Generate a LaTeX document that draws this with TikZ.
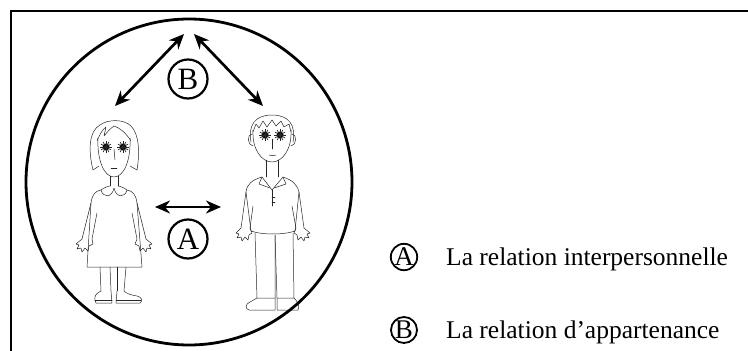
\documentclass[tikz,border=0pt]{standalone}
\usepackage{fontspec}
\setmainfont{Liberation Serif}
\usetikzlibrary{arrows.meta}

\begin{document}
\begin{tikzpicture}[x=1pt, y=-1pt,
  figline/.style={line width=0.5pt, draw=black!85, line join=round, line cap=round},
  relarrow/.style={line width=2.7pt, {Stealth[length=15pt,width=13pt]}-{Stealth[length=15pt,width=13pt]}},
  lettercirc/.style={circle, draw, line width=2.2pt, inner sep=0pt, minimum size=39pt, font=\fontsize{31}{31}\selectfont},
  keycirc/.style={circle, draw, line width=1.8pt, inner sep=0pt, minimum size=26pt, font=\fontsize{27}{27}\selectfont},
  keytext/.style={anchor=base west, inner sep=0pt, font=\fontsize{25.5}{30}\selectfont}]

  \useasboundingbox (0,0) rectangle (748,351);

  % Frame
  \draw[line width=1.1pt] (11,351) -- (11,11) -- (748,11);

  % Girl (left)
  \begin{scope}[figline]
    % hair and face
    \draw (93,170) .. controls (88,150) and (89,131) .. (100,125) .. controls (108,119) and (124,119) .. (131,126) .. controls (139,134) and (140,152) .. (137,170) -- (130,166);
    \draw (93,170) -- (99,166);
    \draw (98,138) .. controls (97,160) and (104,177) .. (114,177) .. controls (124,177) and (131,160) .. (130,138);
    \draw (97,141) .. controls (100,134) and (102,130) .. (106,127) -- (104,136) .. controls (108,131) and (111,128) .. (114,126);
    \draw (114,126) .. controls (120,128) and (126,133) .. (131,141);
    % eyes
    \foreach \ex in {106,123} {
      \fill (\ex,147) circle (3.5);
      \foreach \a in {0,30,...,330}
        \draw[line width=0.7pt] (\ex,147) -- ++(\a:5.6);
    }
    % nose and mouth
    \draw (114,149) -- (115,160);
    \draw (111,168) -- (117,168);
    % neck and collar
    \draw (110,176) -- (110,186);
    \draw (118,176) -- (118,186);
    \draw (101,190) .. controls (103,198) and (112,198) .. (114,188) .. controls (116,198) and (125,198) .. (127,190);
    \draw (101,190) .. controls (105,187) and (109,186) .. (110,186);
    \draw (127,190) .. controls (123,187) and (119,186) .. (118,186);
    % dress
    \draw (101,190) .. controls (95,191) and (92,195) .. (91,203) -- (87,267) -- (142,267) -- (137,203) .. controls (136,195) and (133,191) .. (127,190);
    % arms and hands
    \draw (91,203) -- (82,239);
    \draw (97,213) -- (92,239);
    \draw (137,203) -- (146,239);
    \draw (132,213) -- (137,239);
    \draw (82,239) -- (76,244) -- (79,245) -- (77,249) -- (81,248) -- (82,252) -- (85,248) -- (88,251) -- (89,246) -- (93,244) -- (92,239);
    \draw (146,239) -- (152,244) -- (149,245) -- (151,249) -- (147,248) -- (146,252) -- (143,248) -- (140,251) -- (139,246) -- (135,244) -- (137,239);
    % legs and shoes
    \draw (100,267) -- (101,291);
    \draw (110,267) -- (111,291);
    \draw (117,267) -- (117,291);
    \draw (126,267) -- (124,291);
    \draw (101,291) .. controls (96,293) and (94,297) .. (95,300) -- (96,303) -- (112,303) -- (111,291);
    \draw (95,300) -- (112,300);
    \draw (117,291) -- (116,303) -- (140,303) .. controls (143,301) and (142,297) .. (137,296) .. controls (130,295) and (126,293) .. (124,291);
    \draw (116,300) -- (141,300);
  \end{scope}

  % Boy (right)
  \begin{scope}[figline]
    % hair and face
    \draw (251,142) .. controls (248,125) and (255,115) .. (272,115) .. controls (289,115) and (296,125) .. (293,142);
    \draw (253,130) .. controls (252,150) and (262,162) .. (272,162) .. controls (282,162) and (292,150) .. (291,130);
    \draw (253,132) -- (256,124) -- (259,128) -- (263,121) -- (267,127) -- (272,120) -- (276,126) -- (281,121) -- (284,127) -- (289,124) -- (291,132);
    \draw (252,134) .. controls (247,134) and (247,145) .. (253,146);
    \draw (292,134) .. controls (297,134) and (297,145) .. (291,146);
    % eyes
    \foreach \ex in {265,280} {
      \fill (\ex,135) circle (3.5);
      \foreach \a in {0,30,...,330}
        \draw[line width=0.7pt] (\ex,135) -- ++(\a:5.6);
    }
    % nose and mouth
    \draw (272,139) -- (272,149);
    \draw (269,155) .. controls (271,156) and (274,156) .. (276,155);
    % neck and collar
    \draw (266,160) -- (266,177);
    \draw (278,160) -- (278,177);
    \draw (262,177) -- (272,190) -- (283,177);
    \draw (262,177) -- (259,184) -- (270,188);
    \draw (283,177) -- (286,184) -- (274,188);
    \draw (272,190) -- (272,206);
    \draw (272,197) -- (275,197);
    \draw (272,202) -- (275,202);
    % shirt
    \draw (262,177) .. controls (252,180) and (247,184) .. (246,192) -- (251,231) .. controls (262,235) and (284,235) .. (295,231) -- (299,192) .. controls (297,184) and (292,180) .. (283,177);
    % arms and hands
    \draw (246,192) -- (241,228);
    \draw (253,206) -- (250,228);
    \draw (299,192) -- (304,228);
    \draw (292,206) -- (296,228);
    \draw (241,228) -- (236,233) -- (239,234) -- (237,238) -- (241,237) -- (242,241) -- (245,237) -- (248,240) -- (249,235) -- (252,233) -- (250,228);
    \draw (304,228) -- (310,233) -- (307,234) -- (309,238) -- (305,237) -- (304,241) -- (301,237) -- (298,240) -- (297,235) -- (294,233) -- (296,228);
    % trousers and shoes
    \draw (255,233) -- (257,298) -- (275,298) -- (275,235);
    \draw (275,235) -- (277,298) -- (294,298) -- (293,233);
    \draw (257,298) -- (250,302) .. controls (245,304) and (245,309) .. (249,310) -- (275,310) -- (275,298);
    \draw (277,298) -- (277,310) -- (298,310) .. controls (300,306) and (298,302) .. (294,298);
  \end{scope}

  % Group circle
  \draw[line width=2.8pt] (189,182) circle (163);

  % Relations
  \coordinate (apexL) at (184,34);
  \coordinate (apexR) at (194,34);
  \coordinate (girlB) at (115,106);
  \coordinate (boyB) at (263,106);
  \coordinate (girlA) at (155,207);
  \coordinate (boyA) at (221,207);
  \draw[relarrow] (girlB) -- (apexL);
  \draw[relarrow] (apexR) -- (boyB);
  \draw[relarrow] (girlA) -- (boyA);
  \node[lettercirc] (relB) at (188,79) {B};
  \node[lettercirc] (relA) at (188,239) {A};

  % Legend
  \node[keycirc] (keyA) at (404,257) {A};
  \node[keytext] (txtA) at (446,265) {La relation interpersonnelle};
  \node[keycirc] (keyB) at (404,330) {B};
  \node[keytext] (txtB) at (446,338) {La relation d’appartenance};
\end{tikzpicture}
\end{document}
